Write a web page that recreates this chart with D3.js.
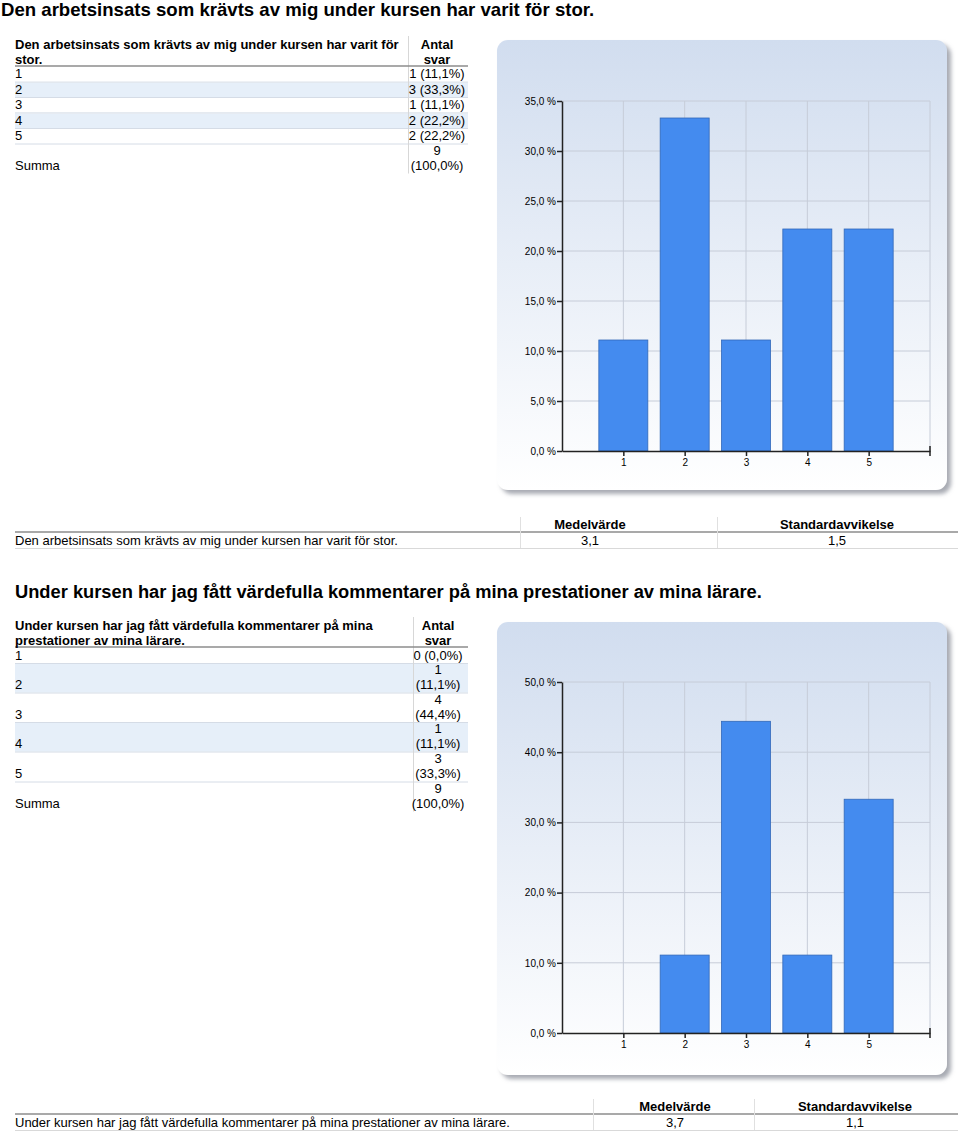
<!DOCTYPE html>
<html>
<head>
<meta charset="utf-8">
<script src="https://cdn.jsdelivr.net/npm/d3@7"></script>
<style>
  body { margin: 0; background: #fff; }
  svg text { font-family: "Liberation Sans", Arial, sans-serif; fill: #000; }
</style>
</head>
<body>
<svg width="960" height="1131"></svg>
<script>
// data
var categories = ["1", "2", "3", "4", "5"];

var q1Title = "Den arbetsinsats som krävts av mig under kursen har varit för stor.";
var q1Counts = [1, 3, 1, 2, 2];
var q1Pct = [11.1, 33.3, 11.1, 22.2, 22.2];
var q1Total = "9";
var q1TotalPct = "(100,0%)";
var q1Ticks = [0, 5, 10, 15, 20, 25, 30, 35];
var q1Mean = "3,1", q1Std = "1,5";

var q2Title = "Under kursen har jag fått värdefulla kommentarer på mina prestationer av mina lärare.";
var q2Counts = [0, 1, 4, 1, 3];
var q2Pct = [0.0, 11.1, 44.4, 11.1, 33.3];
var q2Total = "9";
var q2TotalPct = "(100,0%)";
var q2Ticks = [0, 10, 20, 30, 40, 50];
var q2Mean = "3,7", q2Std = "1,1";

var svg = d3.select("svg");
var defs = svg.append("defs");

var grad = defs.append("linearGradient").attr("id", "panelGrad")
  .attr("x1", 0).attr("y1", 0).attr("x2", 0).attr("y2", 1);
grad.append("stop").attr("offset", "0%").attr("stop-color", "#d1ddef");
grad.append("stop").attr("offset", "100%").attr("stop-color", "#ffffff");

var shadow = defs.append("filter").attr("id", "panelShadow")
  .attr("x", "-5%").attr("y", "-5%").attr("width", "115%").attr("height", "115%");
shadow.append("feDropShadow").attr("dx", 4).attr("dy", 4).attr("stdDeviation", 2)
  .attr("flood-color", "#8a8f99").attr("flood-opacity", 0.75);

function fmt(v) { return v.toFixed(1).replace(".", ",") + " %"; }
function pctLabel(n, p) { return n + " (" + p.toFixed(1).replace(".", ",") + "%)"; }

// --- frequency table on the left ---
function freqTable(o) {
  var g = svg.append("g");
  var rowTop = o.headerLine;
  var colX = o.colX, valX = o.valX;

  var y = rowTop;
  var rows = [];
  categories.forEach(function(c, i) {
    var h = o.rowH[i];
    rows.push({ cat: c, y: y, h: h, i: i });
    y += h;
  });
  var summaTop = y;

  // row backgrounds + separators
  g.selectAll("rect.bg").data(rows.filter(function(r) { return r.i % 2 == 1; }))
    .enter().append("rect")
    .attr("x", 15).attr("y", function(r) { return r.y + 1; })
    .attr("width", 453).attr("height", function(r) { return r.h - 1; })
    .attr("fill", "#e6eff9");

  g.selectAll("line.sep").data(rows.slice(1).concat([{ y: summaTop }]))
    .enter().append("line")
    .attr("x1", 15).attr("x2", 468)
    .attr("y1", function(r) { return r.y + 0.5; }).attr("y2", function(r) { return r.y + 0.5; })
    .attr("stroke", "#d5dce6").attr("stroke-width", 1);

  // column line
  g.append("line").attr("x1", colX + 0.5).attr("x2", colX + 0.5)
    .attr("y1", o.top).attr("y2", summaTop + 30)
    .attr("stroke", "#d7d7d7");

  // header
  g.append("line").attr("x1", 15).attr("x2", 468)
    .attr("y1", o.headerLine).attr("y2", o.headerLine)
    .attr("stroke", "#8c8c8c").attr("stroke-width", 1.6);

  o.head.forEach(function(t, k) {
    g.append("text").attr("x", 15).attr("y", o.top + 13 + k * 15)
      .attr("font-size", 13).attr("font-weight", "bold").text(t);
  });
  g.append("text").attr("x", valX).attr("y", o.top + 13).attr("text-anchor", "middle")
    .attr("font-size", 13).attr("font-weight", "bold").text("Antal");
  g.append("text").attr("x", valX).attr("y", o.top + 28).attr("text-anchor", "middle")
    .attr("font-size", 13).attr("font-weight", "bold").text("svar");

  rows.forEach(function(r) {
    var base = r.y + r.h - 3.5;
    g.append("text").attr("x", 15).attr("y", base).attr("font-size", 13).text(r.cat);
    if (r.h > 20) {
      g.append("text").attr("x", valX).attr("y", base - 15).attr("text-anchor", "middle")
        .attr("font-size", 13).text(o.counts[r.i]);
      g.append("text").attr("x", valX).attr("y", base).attr("text-anchor", "middle")
        .attr("font-size", 13).text("(" + o.pct[r.i].toFixed(1).replace(".", ",") + "%)");
    } else {
      g.append("text").attr("x", valX).attr("y", base).attr("text-anchor", "middle")
        .attr("font-size", 13).text(pctLabel(o.counts[r.i], o.pct[r.i]));
    }
  });

  g.append("text").attr("x", valX).attr("y", summaTop + 11.5).attr("text-anchor", "middle")
    .attr("font-size", 13).text(o.total);
  g.append("text").attr("x", valX).attr("y", summaTop + 26.5).attr("text-anchor", "middle")
    .attr("font-size", 13).text(o.totalPct);
  g.append("text").attr("x", 15).attr("y", summaTop + 26.5)
    .attr("font-size", 13).text("Summa");
}

// --- bar chart panel ---
function barChart(o) {
  var g = svg.append("g");
  g.append("rect").attr("x", 497).attr("y", o.panelY).attr("width", 450).attr("height", o.panelH)
    .attr("rx", 11).attr("ry", 11)
    .attr("fill", "url(#panelGrad)").attr("filter", "url(#panelShadow)");

  var x = d3.scaleLinear().domain([0, 6]).range([562, 930]);
  var y = d3.scaleLinear().domain([0, o.max]).range([o.bottom, o.top]);

  // grid
  g.selectAll("line.hg").data(o.ticks.slice(1)).enter().append("line")
    .attr("x1", 562).attr("x2", 930)
    .attr("y1", function(d) { return y(d); }).attr("y2", function(d) { return y(d); })
    .attr("stroke", "#c6ccd8").attr("stroke-width", 1);
  g.selectAll("line.vg").data([1, 2, 3, 4, 5, 6]).enter().append("line")
    .attr("x1", function(d) { return x(d); }).attr("x2", function(d) { return x(d); })
    .attr("y1", o.top).attr("y2", o.bottom)
    .attr("stroke", "#c6ccd8").attr("stroke-width", 1);

  // bars
  g.selectAll("rect.bar").data(o.pct).enter().append("rect")
    .attr("x", function(d, i) { return x(i + 1) - 24.5; })
    .attr("y", function(d) { return y(d); })
    .attr("width", 49)
    .attr("height", function(d) { return y(0) - y(d); })
    .attr("fill", "#448bef").attr("stroke", "#3268b8").attr("stroke-width", 0.8)
    .style("display", function(d) { return d > 0 ? null : "none"; });

  // y axis
  var yAxis = d3.axisLeft(y).tickValues(o.ticks).tickSize(5).tickSizeOuter(0).tickFormat(fmt);
  var ya = g.append("g").attr("transform", "translate(562,0)").call(yAxis);
  ya.select(".domain").attr("stroke", "#222").attr("stroke-width", 1.5);
  ya.selectAll(".tick line").attr("stroke", "#222").attr("stroke-width", 1.5);
  ya.selectAll(".tick text").attr("font-size", 10).attr("fill", "#333")
    .attr("font-family", "Liberation Sans, Arial, sans-serif").attr("x", -6);

  // x axis
  var xAxis = d3.axisBottom(x).tickValues([1, 2, 3, 4, 5]).tickSize(5).tickSizeOuter(0)
    .tickFormat(function(d) { return categories[d - 1]; });
  var xa = g.append("g").attr("transform", "translate(0," + o.bottom + ")").call(xAxis);
  xa.select(".domain").attr("stroke", "#222").attr("stroke-width", 1.5);
  xa.selectAll(".tick line").attr("stroke", "#222").attr("stroke-width", 1.5);
  xa.selectAll(".tick text").attr("font-size", 10).attr("fill", "#333")
    .attr("font-family", "Liberation Sans, Arial, sans-serif").attr("y", 8);
  g.append("line").attr("x1", 930).attr("x2", 930)
    .attr("y1", o.bottom - 5).attr("y2", o.bottom + 5)
    .attr("stroke", "#222").attr("stroke-width", 1.5);
}

// --- mean / std table ---
function statTable(o) {
  var g = svg.append("g");
  g.append("line").attr("x1", 15).attr("x2", 958).attr("y1", o.line).attr("y2", o.line)
    .attr("stroke", "#8c8c8c").attr("stroke-width", 1.6);
  g.append("line").attr("x1", 15).attr("x2", 958).attr("y1", o.line + 16.5).attr("y2", o.line + 16.5)
    .attr("stroke", "#d9d9d9").attr("stroke-width", 1);
  o.seps.forEach(function(sx) {
    g.append("line").attr("x1", sx + 0.5).attr("x2", sx + 0.5)
      .attr("y1", o.line - 15).attr("y2", o.line + 16)
      .attr("stroke", "#e0e0e0");
  });
  g.append("text").attr("x", o.meanX).attr("y", o.line - 3).attr("text-anchor", "middle")
    .attr("font-size", 13).attr("font-weight", "bold").text("Medelvärde");
  g.append("text").attr("x", o.stdX).attr("y", o.line - 3).attr("text-anchor", "middle")
    .attr("font-size", 13).attr("font-weight", "bold").text("Standardavvikelse");
  g.append("text").attr("x", 15).attr("y", o.line + 13).attr("font-size", 13).text(o.label);
  g.append("text").attr("x", o.meanX).attr("y", o.line + 13).attr("text-anchor", "middle")
    .attr("font-size", 13).text(o.mean);
  g.append("text").attr("x", o.stdX).attr("y", o.line + 13).attr("text-anchor", "middle")
    .attr("font-size", 13).text(o.std);
}

// section 1
svg.append("text").attr("x", 1).attr("y", 16).attr("font-size", 18.6).attr("font-weight", "bold")
  .text(q1Title);

freqTable({
  top: 36, headerLine: 66, colX: 408, valX: 437,
  head: ["Den arbetsinsats som krävts av mig under kursen har varit för", "stor."],
  rowH: [15.6, 15.4, 15.4, 15.6, 15.5],
  counts: q1Counts, pct: q1Pct, total: q1Total, totalPct: q1TotalPct
});

barChart({ panelY: 40, panelH: 450, top: 101, bottom: 451, max: 35, ticks: q1Ticks, pct: q1Pct });

statTable({ line: 532, seps: [520, 717], meanX: 590, stdX: 837,
  label: q1Title, mean: q1Mean, std: q1Std });

// section 2
svg.append("text").attr("x", 15).attr("y", 598).attr("font-size", 18.3).attr("font-weight", "bold")
  .text(q2Title);

freqTable({
  top: 617, headerLine: 647, colX: 413, valX: 438,
  head: ["Under kursen har jag fått värdefulla kommentarer på mina", "prestationer av mina lärare."],
  rowH: [16, 29.5, 29.5, 29.5, 30],
  counts: q2Counts, pct: q2Pct, total: q2Total, totalPct: q2TotalPct
});

barChart({ panelY: 622, panelH: 453, top: 682, bottom: 1033, max: 50, ticks: q2Ticks, pct: q2Pct });

statTable({ line: 1114, seps: [593, 754], meanX: 675, stdX: 855,
  label: q2Title, mean: q2Mean, std: q2Std });
</script>
</body>
</html>
